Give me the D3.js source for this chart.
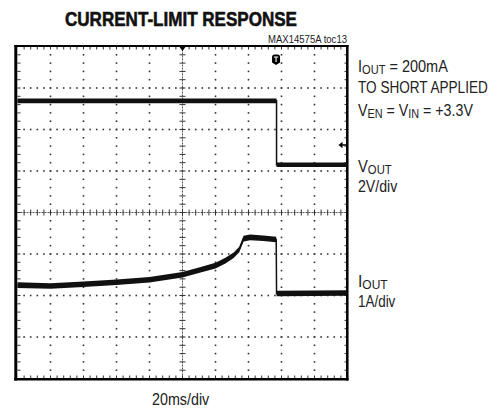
<!DOCTYPE html>
<html>
<head>
<meta charset="utf-8">
<script src="https://cdn.jsdelivr.net/npm/d3@7/dist/d3.min.js"></script>
<style>
  html, body { margin: 0; padding: 0; background: #fff; }
  svg { display: block; }
  text { font-family: "Liberation Sans", Arial, Helvetica, sans-serif; fill: #222; }
</style>
</head>
<body>
<svg id="chart" width="499" height="409"></svg>
<script>
// ---- data (time in divisions of 20ms, VOUT in volts, IOUT in amps) ----
const voutTime = [0, 7.85, 7.85, 10];
const voutVolts = [3.28, 3.28, 0.2, 0.2];
const ioutTime = [0, 1, 2, 3, 4, 5, 5.55, 6.0, 6.3, 6.55, 6.72, 6.85, 7.05, 7.45, 7.84, 7.85, 10];
const ioutAmps = [0.20, 0.18, 0.22, 0.27, 0.33, 0.45, 0.57, 0.67, 0.79, 0.92, 1.06, 1.32, 1.35, 1.33, 1.30, 0.0, 0.01];
const voutPerDiv = 2;   // V/div
const ioutPerDiv = 1;   // A/div
const voutGroundDiv = 5.05;
const ioutGroundDiv = 2.05;
const triggerTime = 7.85;
const labels = {
  title: "CURRENT-LIMIT RESPONSE",
  code: "MAX14575A toc13",
  xLabel: "20ms/div"
};

const svg = d3.select("#chart");
const x = d3.scaleLinear().domain([0, 10]).range([17.5, 347.5]);
const y = d3.scaleLinear().domain([0, 8]).range([378.5, 46.5]);

const g = svg.append("g");

// graticule dots
const dots = [];
for (let k = 1; k < 8; k++) {
  if (k === 4) continue;
  for (let i = 1; i < 50; i++) dots.push([x(i / 5), y(k)]);
}
for (let j = 1; j < 10; j++) {
  if (j === 5) continue;
  for (let i = 1; i < 40; i++) dots.push([x(j), y(i / 5)]);
}
g.selectAll("rect.dot").data(dots).enter().append("rect")
  .attr("class", "dot")
  .attr("x", d => d[0] - 0.8).attr("y", d => d[1] - 0.8)
  .attr("width", 1.6).attr("height", 1.6)
  .attr("fill", "#333");

// center axes with ticks
g.append("line").attr("x1", x(0)).attr("x2", x(10)).attr("y1", y(4)).attr("y2", y(4))
  .attr("stroke", "#555").attr("stroke-width", 1).attr("stroke-dasharray", "2,1");
g.append("line").attr("x1", x(5)).attr("x2", x(5)).attr("y1", y(0)).attr("y2", y(8))
  .attr("stroke", "#555").attr("stroke-width", 1).attr("stroke-dasharray", "2,1");
const hTicks = d3.range(1, 50).map(i => i / 5);
g.selectAll("line.ht").data(hTicks).enter().append("line")
  .attr("x1", d => x(d)).attr("x2", d => x(d))
  .attr("y1", y(4) - 3).attr("y2", y(4) + 3)
  .attr("stroke", "#333").attr("stroke-width", 1);
const vTicks = d3.range(1, 40).map(i => i / 5);
g.selectAll("line.vt").data(vTicks).enter().append("line")
  .attr("y1", d => y(d)).attr("y2", d => y(d))
  .attr("x1", x(5) - 3).attr("x2", x(5) + 3)
  .attr("stroke", "#333").attr("stroke-width", 1);

// border minor ticks
const bx = d3.range(1, 50).map(i => i / 5);
const by = d3.range(1, 40).map(i => i / 5);
g.selectAll("line.bt").data(bx).enter().append("line")
  .attr("x1", d => x(d)).attr("x2", d => x(d)).attr("y1", y(8)).attr("y2", y(8) + 3)
  .attr("stroke", "#333").attr("stroke-width", 1);
g.selectAll("line.bb").data(bx).enter().append("line")
  .attr("x1", d => x(d)).attr("x2", d => x(d)).attr("y1", y(0)).attr("y2", y(0) - 3)
  .attr("stroke", "#333").attr("stroke-width", 1);
g.selectAll("line.bl").data(by).enter().append("line")
  .attr("y1", d => y(d)).attr("y2", d => y(d)).attr("x1", x(0)).attr("x2", x(0) + 3)
  .attr("stroke", "#333").attr("stroke-width", 1);
g.selectAll("line.br").data(by).enter().append("line")
  .attr("y1", d => y(d)).attr("y2", d => y(d)).attr("x1", x(10)).attr("x2", x(10) - 3)
  .attr("stroke", "#333").attr("stroke-width", 1);

// border
g.append("line").attr("x1", 15.8).attr("x2", 15.8).attr("y1", 45).attr("y2", 380.5).attr("stroke", "#000").attr("stroke-width", 3);
g.append("line").attr("x1", 14.3).attr("x2", 348.5).attr("y1", 46).attr("y2", 46).attr("stroke", "#000").attr("stroke-width", 2.2);
g.append("line").attr("x1", 347.3).attr("x2", 347.3).attr("y1", 45).attr("y2", 380.5).attr("stroke", "#000").attr("stroke-width", 2.5);
g.append("line").attr("x1", 14.3).attr("x2", 348.5).attr("y1", 379.3).attr("y2", 379.3).attr("stroke", "#000").attr("stroke-width", 2.5);

// traces
function drawTrace(ts, vs, perDiv, ground, half) {
  const pts = ts.map((t, i) => [t, ground + vs[i] / perDiv]);
  const area = d3.area().x(d => x(d[0])).y0(d => y(d[1]) - half).y1(d => y(d[1]) + half);
  g.append("path").attr("d", area(pts)).attr("fill", "#111");
  const line = d3.line().x(d => x(d[0])).y(d => y(d[1]));
  g.append("path").attr("d", line(pts)).attr("fill", "none").attr("stroke", "#111").attr("stroke-width", 1.5);
}
drawTrace(voutTime, voutVolts, voutPerDiv, voutGroundDiv, 2.3);
drawTrace(ioutTime, ioutAmps, ioutPerDiv, ioutGroundDiv, 2.8);

// trigger marker "T"
const tx = x(triggerTime) - 0.5;
g.append("path")
  .attr("d", `M${tx - 4},${57} Q${tx - 4},${54.5} ${tx - 1.5},${54.5} L${tx + 1.5},${54.5} Q${tx + 4},${54.5} ${tx + 4},${57} L${tx + 4},${62.5} L${tx},${65} L${tx - 4},${62.5} Z`)
  .attr("fill", "#000");
g.append("path").attr("d", `M${tx - 2.2},${57} L${tx + 2.2},${57} M${tx},${57} L${tx},${62}`)
  .attr("stroke", "#fff").attr("stroke-width", 1.1).attr("fill", "none");

// top-center trigger position marker
g.append("path").attr("d", `M${x(5) - 3},47 L${x(5) + 3},47 L${x(5)},51 Z`).attr("fill", "#000");

// trigger level arrow on right
const ay = 145;
g.append("path").attr("d", `M${x(10) - 1},${ay} L${x(10) - 6},${ay}`).attr("stroke", "#000").attr("stroke-width", 1.5);
g.append("path").attr("d", `M${x(10) - 9},${ay} L${x(10) - 5},${ay - 3.2} L${x(10) - 5},${ay + 3.2} Z`).attr("fill", "#000");

// texts
svg.append("text").attr("x", 181).attr("y", 26).attr("text-anchor", "middle")
  .attr("font-size", 21).attr("font-weight", "bold")
  .attr("textLength", 232).attr("lengthAdjust", "spacingAndGlyphs")
  .style("fill", "#111").style("stroke", "#111").style("stroke-width", 0.6)
  .text(labels.title);
svg.append("text").attr("x", 347).attr("y", 43).attr("text-anchor", "end")
  .attr("font-size", 10.5).attr("textLength", 79).attr("lengthAdjust", "spacingAndGlyphs")
  .text(labels.code);

// narrow text: place in a group and squeeze horizontally to the reference width
function narrowText(xp, yp, parts, targetW) {
  const grp = svg.append("g");
  const t = grp.append("text").attr("x", 0).attr("y", 0).attr("font-size", 16.4);
  parts.forEach(p => {
    if (p.sub) {
      t.append("tspan").attr("font-size", 12.5).attr("dy", 2).text(p.s);
    } else {
      t.append("tspan").attr("dy", p.after ? -2 : 0).text(p.s);
    }
  });
  const w = t.node().getBBox().width;
  const k = w > 0 ? targetW / w : 1;
  grp.attr("transform", `translate(${xp},${yp}) scale(${k},1)`);
  return grp;
}
narrowText(358, 71.7, [{s: "I"}, {s: "OUT", sub: true}, {s: " = 200mA", after: true}], 90);
narrowText(358, 93.3, [{s: "TO SHORT APPLIED"}], 130);
narrowText(358, 116, [{s: "V"}, {s: "EN", sub: true}, {s: " = V", after: true}, {s: "IN", sub: true}, {s: " = +3.3V", after: true}], 115);
narrowText(358, 171.7, [{s: "V"}, {s: "OUT", sub: true}], 34);
narrowText(358, 191.7, [{s: "2V/div"}], 40);
narrowText(358, 286.7, [{s: "I"}, {s: "OUT", sub: true}], 30);
narrowText(358, 306.7, [{s: "1A/div"}], 38);
narrowText(152, 405, [{s: labels.xLabel}], 58);
</script>
</body>
</html>
